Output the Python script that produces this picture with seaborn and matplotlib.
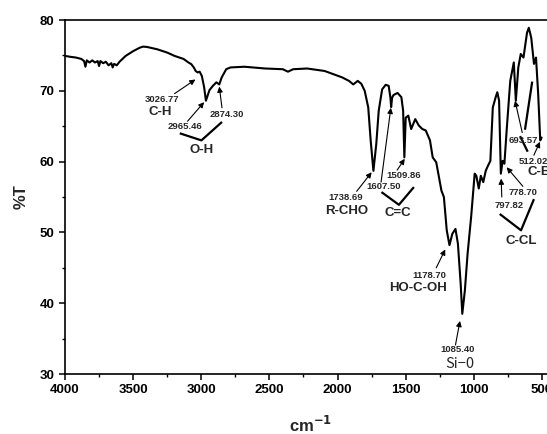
import matplotlib
matplotlib.use("Agg")
import matplotlib.pyplot as plt
import seaborn as sns
import pandas as pd

# FTIR spectrum: wavenumber (cm^-1) and transmittance (%T)
wavenumber = [4000, 3960, 3920, 3880, 3860, 3850, 3840, 3820, 3800, 3780, 3760, 3750,
              3740, 3720, 3700, 3680, 3660, 3650, 3640, 3620, 3600, 3555, 3500, 3450,
              3427, 3400, 3324, 3250, 3196, 3130, 3094, 3073, 3055, 3041, 3027, 3012,
              2996, 2979, 2966, 2950, 2940, 2915, 2889, 2868, 2850, 2817, 2786, 2684,
              2530, 2402, 2364, 2326, 2223, 2095, 1967, 1916, 1885, 1852, 1826, 1801,
              1775, 1757, 1737, 1716, 1698, 1673, 1647, 1625, 1612, 1607, 1600, 1590,
              1560, 1532, 1519, 1510, 1500, 1481, 1460, 1430, 1404, 1378, 1353, 1322,
              1302, 1276, 1256, 1238, 1220, 1199, 1179, 1158, 1135, 1117, 1097, 1085,
              1066, 1046, 1020, 994, 982, 964, 949, 931, 913, 897, 879, 861, 840, 828,
              815, 802, 789, 776, 758, 733, 707, 692, 674, 656, 636, 610, 597, 579,
              559, 544, 528, 513, 503]
transmittance = [74.93, 74.8, 74.7, 74.5, 74.2, 73.4, 74.3, 74.0, 74.3, 74.0, 74.2, 73.5,
                 74.2, 73.9, 74.1, 73.6, 73.9, 73.3, 73.8, 73.6, 74.1, 74.93, 75.6, 76.1,
                 76.24, 76.2, 75.87, 75.4, 74.93, 74.5, 74.0, 73.76, 73.3, 72.8, 72.6, 72.7,
                 72.1, 70.5, 68.6, 69.5, 70.1, 70.7, 71.2, 70.9, 71.9, 73.05, 73.3, 73.4,
                 73.15, 73.05, 72.7, 73.05, 73.15, 72.8, 71.9, 71.4, 70.9, 71.4, 71.0, 70.0,
                 67.65, 62.96, 58.7, 62.5, 67.2, 70.2, 70.85, 70.7, 69.0, 67.7, 69.0, 69.4,
                 69.7, 69.1, 67.2, 60.6, 66.2, 66.5, 64.6, 66.0, 65.1, 64.6, 64.4, 63.0,
                 60.6, 59.9, 57.8, 55.9, 55.0, 50.3, 48.2, 49.8, 50.5, 48.4, 42.8, 38.5,
                 41.8, 47.0, 52.2, 58.3, 58.0, 56.2, 58.0, 57.1, 58.7, 59.4, 60.1, 67.65,
                 69.1, 69.8, 68.6, 58.3, 60.1, 59.7, 64.8, 71.4, 74.0, 68.6, 73.3, 75.2,
                 74.7, 78.2, 78.9, 77.5, 73.8, 74.7, 69.5, 63.0, 63.4]

# peak labels: text, text position, arrow tail, arrow head
peak_labels = ["3026.77", "2965.46", "2874.30", "1738.69", "1607.50", "1509.86",
               "1178.70", "1085.40", "693.57", "512.02", "778.70", "797.82"]
peak_text_xy = [(3286, 68.8), (3119, 64.9), (2812, 66.7), (1942, 54.9), (1665, 56.5),
                (1517, 58.1), (1327, 43.9), (1117, 33.4), (640, 63.0), (562, 60.0),
                (640, 55.6), (739, 53.8)]
arrow_tail = [(3196, 69.6), (3101, 65.7), (2848, 67.6), (1860, 55.8), (1681, 57.1),
              (1563, 58.8), (1276, 45.0), (1135, 34.1), (645, 64.1), (560, 60.9),
              (640, 56.5), (795, 55.0)]
arrow_head = [(3043, 71.6), (2979, 68.4), (2868, 70.6), (1750, 58.5), (1609, 67.6),
              (1507, 60.4), (1210, 47.6), (1102, 37.5), (698, 68.6), (515, 62.8),
              (759, 59.2), (800, 57.6)]

# functional-group labels and their bracket lines
group_labels = ["C-H", "O-H", "R-CHO", "C=C", "HO-C-OH", "C-CL", "C-B"]
group_xy = [(3304, 67.0), (2999, 61.6), (1934, 53.0), (1558, 52.8), (1409, 42.2),
            (656, 48.8), (522, 58.6)]
brackets = [
    [(3158, 64.0), (2999, 63.0), (2848, 65.6)],
    [(1678, 55.7), (1550, 53.9), (1440, 56.4)],
    [(810, 52.6), (654, 50.3), (559, 54.7)],
    [(661, 63.6), (605, 61.4)],
    [(625, 64.5), (572, 71.3)],
]

sns.set_theme(style="ticks")
plt.rcParams["font.family"] = ["Liberation Sans", "DejaVu Sans"]

fig = plt.figure(figsize=(5.47, 4.34), dpi=100)
ax = fig.add_axes([0.1188, 0.1382, 0.897, 0.8157])

df = pd.DataFrame({"wavenumber": wavenumber, "T": transmittance})
sns.lineplot(data=df, x="wavenumber", y="T", ax=ax, color="black", lw=1.5,
             sort=False, errorbar=None)

ax.set_xlim(4000, 400)
ax.set_ylim(30, 80)
ax.set_xticks(range(4000, 499, -500))
ax.set_xticks(range(3750, 499, -500), minor=True)
ax.set_yticks(range(30, 81, 10))
ax.set_yticks(range(35, 80, 10), minor=True)
ax.tick_params(axis="both", which="major", direction="out", length=4, width=1.1,
               labelsize=9.5, color="black", labelcolor="black")
ax.tick_params(axis="both", which="minor", direction="out", length=2.5, width=1.0,
               color="black")
ax.tick_params(axis="x", pad=3)
for lbl in ax.get_xticklabels() + ax.get_yticklabels():
    lbl.set_fontweight("bold")

for side in ["left", "bottom", "top", "right"]:
    ax.spines[side].set_color("black")
    ax.spines[side].set_linewidth(1.2)

ax.set_xlabel("cm$^{\\mathbf{-1}}$", fontsize=12, fontweight="bold", labelpad=14)
ax.set_ylabel("%T", fontsize=12, fontweight="bold", labelpad=8)

for txt, xy, tail, head in zip(peak_labels, peak_text_xy, arrow_tail, arrow_head):
    ax.text(xy[0], xy[1], txt, fontsize=6.8, fontweight="bold", ha="center",
            va="center", clip_on=False)
    ax.annotate("", xy=head, xytext=tail, annotation_clip=False,
                arrowprops=dict(arrowstyle="-|>", lw=0.8, color="black",
                                mutation_scale=8, shrinkA=0, shrinkB=0))

for txt, xy in zip(group_labels, group_xy):
    ax.text(xy[0], xy[1], txt, fontsize=9.5, fontweight="bold", ha="center",
            va="center", clip_on=False)

ax.text(1102, 31.4, "Si\u22120", fontsize=10.5, ha="center", va="center",
        family=["Noto Sans CJK SC", "DejaVu Sans"])

for pts in brackets:
    xs = [p[0] for p in pts]
    ys = [p[1] for p in pts]
    ax.plot(xs, ys, color="black", lw=1.6, solid_capstyle="butt", clip_on=False)

fig.savefig("out.png", dpi=100)
